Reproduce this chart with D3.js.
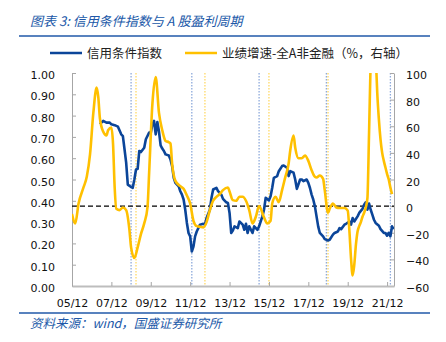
<!DOCTYPE html>
<html><head><meta charset="utf-8">
<script src="https://cdn.jsdelivr.net/npm/d3@7"></script>
<style>
html,body{margin:0;padding:0;background:#fff;}
svg{display:block;}
</style></head>
<body>
<svg id="c" width="446" height="342"></svg>
<script>
// ---------------- data ----------------
const titleText = "图表 3:  信用条件指数与 A 股盈利周期";
const sourceText = "资料来源：wind，国盛证券研究所";
const seriesNames = ["信用条件指数", "业绩增速-全A非金融（%，右轴）"];

const xTickLabels = ["05/12","07/12","09/12","11/12","13/12","15/12","17/12","19/12","21/12"];
const leftTicks = [0,0.1,0.2,0.3,0.4,0.5,0.6,0.7,0.8,0.9,1.0];
const rightTicks = [-60,-40,-20,0,20,40,60,80,100];

// 信用条件指数 (left axis)
const creditDates = ["2007-05","2007-07","2007-09","2007-11","2007-12","2008-02","2008-04","2008-06","2008-07","2008-08","2008-09","2008-10","2008-12","2009-01","2009-02","2009-03","2009-04","2009-05","2009-06","2009-08","2009-09","2009-11","2009-12","2010-01","2010-02","2010-03","2010-04","2010-05","2010-06","2010-07","2010-08","2010-09","2010-11","2010-12","2011-01","2011-02","2011-03","2011-05","2011-06","2011-07","2011-08","2011-09","2011-10","2011-11","2011-12","2012-01","2012-02","2012-03","2012-04","2012-06","2012-08","2012-09","2012-10","2012-12","2013-01","2013-02","2013-04","2013-05","2013-07","2013-08","2013-10","2013-11","2013-12","2014-01","2014-02","2014-03","2014-05","2014-06","2014-08","2014-09","2014-10","2014-11","2014-12","2015-02","2015-03","2015-05","2015-06","2015-08","2015-09","2015-10","2015-12","2016-01","2016-02","2016-03","2016-05","2016-06","2016-08","2016-09","2016-11","2016-12","2017-01","2017-03","2017-04","2017-05","2017-07","2017-08","2017-09","2017-11","2017-12","2018-01","2018-02","2018-03","2018-04","2018-05","2018-06","2018-07","2018-09","2018-10","2018-12","2019-01","2019-03","2019-04","2019-06","2019-07","2019-08","2019-10","2019-11","2020-01","2020-02","2020-03","2020-04","2020-06","2020-07","2020-09","2020-10","2020-11","2020-12","2021-01","2021-02","2021-03","2021-04","2021-05","2021-07","2021-08","2021-10","2021-11","2021-12","2022-01","2022-02","2022-03","2022-04"];
const creditValues = [0.76,0.775,0.767,0.767,0.759,0.755,0.748,0.712,0.704,0.642,0.579,0.476,0.465,0.461,0.50,0.547,0.55,0.634,0.629,0.649,0.689,0.72,0.72,0.759,0.775,0.712,0.77,0.725,0.66,0.645,0.634,0.618,0.613,0.594,0.563,0.508,0.484,0.468,0.445,0.429,0.406,0.358,0.296,0.249,0.233,0.162,0.185,0.233,0.256,0.288,0.292,0.288,0.319,0.358,0.414,0.453,0.461,0.445,0.429,0.409,0.393,0.39,0.343,0.249,0.26,0.28,0.272,0.303,0.288,0.264,0.292,0.249,0.28,0.249,0.28,0.264,0.28,0.327,0.358,0.414,0.402,0.421,0.461,0.508,0.516,0.539,0.563,0.566,0.555,0.516,0.539,0.532,0.50,0.456,0.50,0.50,0.492,0.50,0.484,0.46,0.429,0.406,0.374,0.327,0.28,0.249,0.233,0.22,0.214,0.217,0.241,0.249,0.256,0.272,0.267,0.288,0.292,0.303,0.288,0.319,0.303,0.327,0.343,0.362,0.382,0.393,0.358,0.387,0.358,0.335,0.311,0.296,0.283,0.267,0.249,0.249,0.236,0.25,0.233,0.28,0.267];

// 业绩增速-全A非金融 (%, right axis)
const earnDates = ["2005-12","2006-02","2006-04","2006-07","2006-09","2006-11","2007-01","2007-03","2007-04","2007-05","2007-07","2007-09","2007-10","2007-12","2008-01","2008-02","2008-03","2008-05","2008-07","2008-09","2008-11","2008-12","2009-02","2009-04","2009-06","2009-08","2009-10","2009-11","2010-01","2010-03","2010-05","2010-07","2010-09","2010-11","2010-12","2011-01","2011-03","2011-06","2011-08","2011-10","2011-12","2012-02","2012-04","2012-06","2012-08","2012-10","2012-12","2013-02","2013-04","2013-06","2013-08","2013-11","2013-12","2014-02","2014-04","2014-06","2014-08","2014-10","2014-12","2015-02","2015-04","2015-06","2015-09","2015-11","2016-01","2016-02","2016-04","2016-06","2016-08","2016-10","2016-12","2017-01","2017-03","2017-04","2017-06","2017-08","2017-10","2017-12","2018-02","2018-04","2018-05","2018-07","2018-09","2018-10","2018-12","2019-01","2019-03","2019-05","2019-07","2019-10","2019-12","2020-01","2020-02","2020-03","2020-04","2020-05","2020-06","2020-07","2020-08","2020-09","2020-10","2020-11","2020-12","2021-01","2021-02","2021-03","2021-04","2021-05","2021-06","2021-07","2021-08","2021-09","2021-10","2021-11","2021-12","2022-01","2022-02","2022-03"];
const earnValues = [-6,-13,2,14,22,39,70,89,82,66,56,53,57,59,47,14,-2,-3,-1,-3,-18,-31,-39,-31,-21,-13,-1,25,77,97,70,57,49,48,47,32,19,15,13,8,2,-11,-15,-15.5,-16,-12,-3,4,7,9,12,14,11,4.5,4,7,7,4,-3,-13,-8,0,-8.5,-13,-11,2,7,3,12,22,32,42,53,44,36,36,38,34,27,22,21.5,23,20.5,12,-5,-2,2,-1,-1.4,-1.4,-3.4,-18,-39,-52,-44,-29,-19,-15,-12,-8,-5,-1,6,55,110,150,150,115,85,65,50,40,34,29,24,20,14,9];

// cycle markers (dotted verticals)
const creditMarkers = ["2008-12","2012-01","2015-06","2018-11","2022-02"];
const earnMarkers = ["2009-03","2012-09","2015-12","2018-12"];

// ---------------- helpers ----------------
const startYear = 2005, startMonth = 12;
function monthIndex(s){ const [y,m] = s.split("-").map(Number); return (y-startYear)*12 + (m-startMonth); }

const credit = creditDates.map((d,i)=>({m:monthIndex(d), v:creditValues[i]}));
const earn = earnDates.map((d,i)=>({m:monthIndex(d), v:earnValues[i]}));

// ---------------- layout ----------------
const svg = d3.select("#c");
const L = 72, R = 394, T = 73, B = 286;
const x = d3.scaleLinear().domain([0, 196.2]).range([L, R]);
const yL = d3.scaleLinear().domain([0, 1]).range([B, T]);
const yR = d3.scaleLinear().domain([-60, 100]).range([B, T]);

const BLUE = "#0b4599", GOLD = "#ffc000", HEAD = "#2058a8";
const cjk = "'Noto Sans CJK SC','Noto Sans',sans-serif";
const num = "'DejaVu Sans',Verdana,sans-serif";

// title
svg.append("text").attr("x", 30).attr("y", 26)
  .attr("font-family", cjk).attr("font-size", 13).attr("font-style", "italic")
  .attr("fill", HEAD).text(titleText);
svg.append("line").attr("x1", 19).attr("x2", 430).attr("y1", 36).attr("y2", 36)
  .attr("stroke", HEAD).attr("stroke-width", 1.5);

// legend
const leg = [{c:BLUE, x:50, t:seriesNames[0]}, {c:GOLD, x:185, t:seriesNames[1]}];
leg.forEach(l=>{
  svg.append("line").attr("x1", l.x).attr("x2", l.x+32).attr("y1", 53).attr("y2", 53)
    .attr("stroke", l.c).attr("stroke-width", 2.5);
  svg.append("text").attr("x", l.x+37).attr("y", 57.5)
    .attr("font-family", cjk).attr("font-size", 12.5).attr("fill", "#222").text(l.t);
});

// marker verticals
const clip = svg.append("clipPath").attr("id","pc").append("rect")
  .attr("x", L).attr("y", T).attr("width", R-L).attr("height", B-T);

svg.append("g").selectAll("line").data(creditMarkers).join("line")
  .attr("x1", d=>x(monthIndex(d))).attr("x2", d=>x(monthIndex(d)))
  .attr("y1", T).attr("y2", B)
  .attr("stroke", "#8eaadb").attr("stroke-width", 1.3).attr("stroke-dasharray", "1.5,1.5");
svg.append("g").selectAll("line").data(earnMarkers).join("line")
  .attr("x1", d=>x(monthIndex(d))).attr("x2", d=>x(monthIndex(d)))
  .attr("y1", T).attr("y2", B)
  .attr("stroke", "#ffd966").attr("stroke-width", 1.3).attr("stroke-dasharray", "1.5,1.5");

// axes
const gL = svg.append("g").attr("transform", `translate(${L},0)`)
  .call(d3.axisLeft(yL).tickValues(leftTicks).tickFormat(d3.format(".2f")).tickSize(-4).tickSizeOuter(0).tickPadding(17));
const gR = svg.append("g").attr("transform", `translate(${R},0)`)
  .call(d3.axisRight(yR).tickValues(rightTicks).tickFormat(d3.format("d")).tickSize(-4).tickSizeOuter(0).tickPadding(12));
const gB = svg.append("g").attr("transform", `translate(0,${B})`)
  .call(d3.axisBottom(x).tickValues(xTickLabels.map((_,i)=>i*24)).tickFormat((d,i)=>xTickLabels[i]).tickSize(-4).tickSizeOuter(0).tickPadding(13));

[gL,gR,gB].forEach(g=>{
  g.selectAll("text").attr("font-family", num).attr("font-size", 11).attr("fill", "#111");
  g.selectAll("line").attr("stroke", "#a6a6a6");
  g.select(".domain").attr("stroke", "#a6a6a6");
});
gL.selectAll("text").attr("dy", "0.5em");
gR.selectAll("text").attr("dy", "0.5em");
gB.select(".domain").attr("stroke", "#bdbdbd").attr("stroke-width", 2);

// zero reference (right axis)
svg.append("line").attr("x1", L).attr("x2", R).attr("y1", yR(0)).attr("y2", yR(0))
  .attr("stroke", "#000").attr("stroke-width", 1.2).attr("stroke-dasharray", "5,3");

// series
const plot = svg.append("g").attr("clip-path", "url(#pc)");
plot.append("path").datum(credit)
  .attr("d", d3.line().x(d=>x(d.m)).y(d=>yL(d.v)))
  .attr("fill", "none").attr("stroke", BLUE).attr("stroke-width", 2.6).attr("stroke-linejoin", "round");
plot.append("path").datum(earn)
  .attr("d", d3.line().curve(d3.curveMonotoneX).x(d=>x(d.m)).y(d=>yR(d.v)))
  .attr("fill", "none").attr("stroke", GOLD).attr("stroke-width", 2.6).attr("stroke-linejoin", "round");

// footer
svg.append("line").attr("x1", 19).attr("x2", 430).attr("y1", 313).attr("y2", 313)
  .attr("stroke", HEAD).attr("stroke-width", 1.5);
svg.append("text").attr("x", 30).attr("y", 328)
  .attr("font-family", cjk).attr("font-size", 12.5).attr("font-style", "italic")
  .attr("fill", HEAD).text(sourceText);
</script>
</body></html>
